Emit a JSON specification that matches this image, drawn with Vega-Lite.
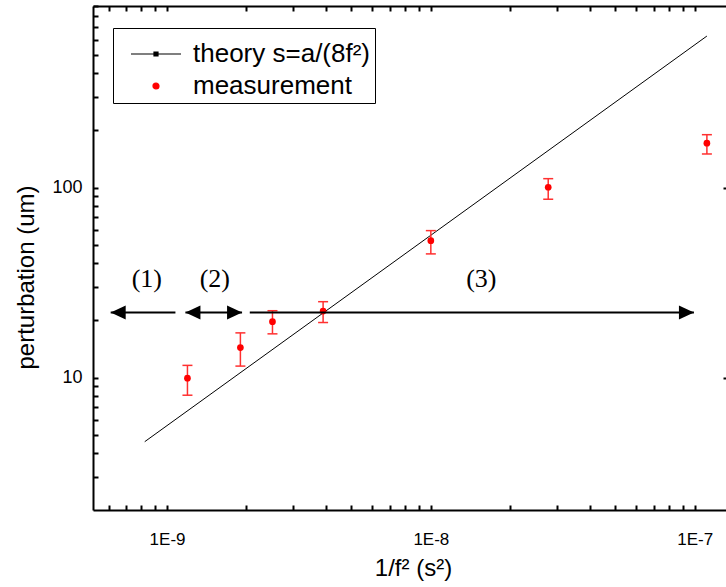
{
  "$schema": "https://vega.github.io/schema/vega-lite/v6.json",
  "width": 633,
  "height": 504,
  "autosize": {"type": "none"},
  "padding": {"left": 93, "top": 6, "right": 0, "bottom": 77},
  "background": "white",
  "config": {
    "view": {"stroke": null},
    "axis": {
      "grid": false,
      "domainColor": "black",
      "domainWidth": 2,
      "tickColor": "black",
      "tickWidth": 2,
      "labelFont": "Liberation Sans",
      "labelFontSize": 17,
      "labelColor": "black",
      "titleFont": "Liberation Sans",
      "titleFontSize": 24,
      "titleFontWeight": "normal",
      "titleColor": "black",
      "labelOverlap": false,
      "labelFlush": false,
      "labelBound": false
    },
    "legend": {
      "labelFont": "Liberation Sans",
      "labelFontSize": 26,
      "labelColor": "black",
      "labelLimit": 400,
      "symbolSize": 100,
      "symbolStrokeWidth": 1.2,
      "padding": 4,
      "rowPadding": 6,
      "labelOffset": 50,
      "strokeColor": "black",
      "strokeWidth": 1,
      "fillColor": "white",
      "titleFontSize": 8,
      "titlePadding": 1
    }
  },
  "datasets": {
    "theory": [
      {"x": 8.23e-10, "s": 4.6},
      {"x": 1.113e-7, "s": 628}
    ],
    "meas": [
      {"x": 1.195e-9, "s": 9.93, "lo": 8.08, "hi": 11.6},
      {"x": 1.897e-9, "s": 14.4, "lo": 11.5, "hi": 17.2},
      {"x": 2.51e-9, "s": 19.7, "lo": 17.0, "hi": 22.5},
      {"x": 3.905e-9, "s": 22.4, "lo": 19.5, "hi": 25.1},
      {"x": 1.0e-8, "s": 52.6, "lo": 44.8, "hi": 59.4},
      {"x": 2.786e-8, "s": 100.5, "lo": 86.9, "hi": 111.5},
      {"x": 1.113e-7, "s": 171.4, "lo": 150.4, "hi": 190}
    ],
    "arrows": [
      {"x1": 6.115e-10, "x2": 1.076e-9, "y": 22},
      {"x1": 1.174e-9, "x2": 1.925e-9, "y": 22},
      {"x1": 2.059e-9, "x2": 9.94e-8, "y": 22}
    ],
    "heads": [
      {"x": 6.115e-10, "y": 22, "dir": "left"},
      {"x": 1.174e-9, "y": 22, "dir": "left"},
      {"x": 1.925e-9, "y": 22, "dir": "right"},
      {"x": 9.94e-8, "y": 22, "dir": "right"}
    ],
    "labels": [
      {"label": "(1)", "x": 8.38e-10, "y": 30},
      {"label": "(2)", "x": 1.517e-9, "y": 30},
      {"label": "(3)", "x": 1.554e-8, "y": 30}
    ],
    "series": [
      {"series": "theory s=a/(8f²)"},
      {"series": "measurement"}
    ]
  },
  "layer": [
    {
      "data": {"name": "theory"},
      "mark": {"type": "line", "color": "black", "strokeWidth": 1},
      "encoding": {
        "x": {
          "field": "x", "type": "quantitative",
          "scale": {"type": "log", "domain": [5.24e-10, 1.315e-7], "nice": false},
          "axis": {
            "orient": "bottom",
            "values": [6e-10, 7e-10, 8e-10, 9e-10, 1e-9, 2e-9, 3e-9, 4e-9, 5e-9, 6e-9, 7e-9, 8e-9, 9e-9, 1e-8, 2e-8, 3e-8, 4e-8, 5e-8, 6e-8, 7e-8, 8e-8, 9e-8, 1e-7],
            "labelExpr": "abs(log(datum.value)/LN10 - round(log(datum.value)/LN10)) < 0.01 ? '1E' + round(log(datum.value)/LN10) : ''",
            "tickSize": -5,
            "labelPadding": 26,
            "title": "1/f² (s²)",
            "titleX": 320,
            "titleY": 65,
            "titleBaseline": "alphabetic",
            "encode": {"ticks": {"update": {"y2": {"signal": "abs(log(datum.value)/LN10 - round(log(datum.value)/LN10)) < 0.01 ? -9 : -5"}}}}
          }
        },
        "y": {
          "field": "s", "type": "quantitative",
          "scale": {"type": "log", "domain": [2.01, 904], "nice": false},
          "axis": {
            "orient": "left",
            "values": [2, 3, 4, 5, 6, 7, 8, 9, 10, 20, 30, 40, 50, 60, 70, 80, 90, 100, 200, 300, 400, 500, 600, 700, 800, 900],
            "labelExpr": "datum.value == 10 ? '10' : (datum.value == 100 ? '100' : '')",
            "labelFontSize": 18,
            "tickSize": -5,
            "labelPadding": 16,
            "title": "perturbation (um)",
            "titleX": -59.5,
            "titleY": 271,
            "titleBaseline": "alphabetic",
            "encode": {"ticks": {"update": {"x2": {"signal": "abs(log(datum.value)/LN10 - round(log(datum.value)/LN10)) < 0.01 ? 9 : 5"}}}}
          }
        }
      }
    },
    {
      "data": {"name": "meas"},
      "mark": {"type": "rule", "color": "#ff3030", "strokeWidth": 1.5},
      "encoding": {
        "x": {
          "field": "x", "type": "quantitative",
          "scale": {"type": "log", "domain": [5.24e-10, 1.315e-7], "nice": false},
          "axis": {
            "orient": "top",
            "values": [6e-10, 7e-10, 8e-10, 9e-10, 1e-9, 2e-9, 3e-9, 4e-9, 5e-9, 6e-9, 7e-9, 8e-9, 9e-9, 1e-8, 2e-8, 3e-8, 4e-8, 5e-8, 6e-8, 7e-8, 8e-8, 9e-8, 1e-7],
            "labels": false,
            "tickSize": -5,
            "title": null,
            "encode": {"ticks": {"update": {"y2": {"signal": "abs(log(datum.value)/LN10 - round(log(datum.value)/LN10)) < 0.01 ? 9 : 5"}}}}
          }
        },
        "y": {
          "field": "lo", "type": "quantitative",
          "scale": {"type": "log", "domain": [2.01, 904], "nice": false},
          "axis": {
            "orient": "right",
            "values": [10, 100],
            "labels": false,
            "domain": false,
            "domainOpacity": 0,
            "tickSize": -3,
            "title": null
          }
        },
        "y2": {"field": "hi"}
      }
    },
    {
      "data": {"name": "meas"},
      "mark": {"type": "tick", "orient": "horizontal", "color": "#ff3030", "size": 10, "thickness": 1.5, "opacity": 1},
      "encoding": {
        "x": {"field": "x", "type": "quantitative", "scale": {"type": "log", "domain": [5.24e-10, 1.315e-7], "nice": false}, "axis": null},
        "y": {"field": "lo", "type": "quantitative", "scale": {"type": "log", "domain": [2.01, 904], "nice": false}, "axis": null}
      }
    },
    {
      "data": {"name": "meas"},
      "mark": {"type": "tick", "orient": "horizontal", "color": "#ff3030", "size": 10, "thickness": 1.5, "opacity": 1},
      "encoding": {
        "x": {"field": "x", "type": "quantitative", "scale": {"type": "log", "domain": [5.24e-10, 1.315e-7], "nice": false}, "axis": null},
        "y": {"field": "hi", "type": "quantitative", "scale": {"type": "log", "domain": [2.01, 904], "nice": false}, "axis": null}
      }
    },
    {
      "data": {"name": "meas"},
      "mark": {"type": "point", "filled": true, "color": "red", "size": 45, "opacity": 1, "shape": "circle"},
      "encoding": {
        "x": {"field": "x", "type": "quantitative", "scale": {"type": "log", "domain": [5.24e-10, 1.315e-7], "nice": false}, "axis": null},
        "y": {"field": "s", "type": "quantitative", "scale": {"type": "log", "domain": [2.01, 904], "nice": false}, "axis": null}
      }
    },
    {
      "data": {"name": "arrows"},
      "mark": {"type": "rule", "color": "black", "strokeWidth": 2},
      "encoding": {
        "x": {"field": "x1", "type": "quantitative", "scale": {"type": "log", "domain": [5.24e-10, 1.315e-7], "nice": false}, "axis": null},
        "x2": {"field": "x2"},
        "y": {"field": "y", "type": "quantitative", "scale": {"type": "log", "domain": [2.01, 904], "nice": false}, "axis": null}
      }
    },
    {
      "data": {"name": "heads"},
      "transform": [{"filter": "datum.dir == 'left'"}],
      "mark": {"type": "point", "filled": true, "color": "black", "opacity": 1, "size": 225, "shape": "M0,0L2,-0.93L2,0.93Z"},
      "encoding": {
        "x": {"field": "x", "type": "quantitative", "scale": {"type": "log", "domain": [5.24e-10, 1.315e-7], "nice": false}, "axis": null},
        "y": {"field": "y", "type": "quantitative", "scale": {"type": "log", "domain": [2.01, 904], "nice": false}, "axis": null}
      }
    },
    {
      "data": {"name": "heads"},
      "transform": [{"filter": "datum.dir == 'right'"}],
      "mark": {"type": "point", "filled": true, "color": "black", "opacity": 1, "size": 225, "shape": "M0,0L-2,-0.93L-2,0.93Z"},
      "encoding": {
        "x": {"field": "x", "type": "quantitative", "scale": {"type": "log", "domain": [5.24e-10, 1.315e-7], "nice": false}, "axis": null},
        "y": {"field": "y", "type": "quantitative", "scale": {"type": "log", "domain": [2.01, 904], "nice": false}, "axis": null}
      }
    },
    {
      "data": {"name": "labels"},
      "mark": {"type": "text", "font": "Liberation Serif", "fontSize": 26, "color": "black", "align": "center", "baseline": "alphabetic"},
      "encoding": {
        "x": {"field": "x", "type": "quantitative", "scale": {"type": "log", "domain": [5.24e-10, 1.315e-7], "nice": false}, "axis": null},
        "y": {"field": "y", "type": "quantitative", "scale": {"type": "log", "domain": [2.01, 904], "nice": false}, "axis": null},
        "text": {"field": "label"}
      }
    },
    {
      "data": {"name": "series"},
      "transform": [{"filter": "false"}],
      "mark": {"type": "point", "filled": true, "opacity": 1},
      "encoding": {
        "shape": {
          "field": "series", "type": "nominal",
          "scale": {"domain": ["theory s=a/(8f²)", "measurement"], "range": ["M0.2,0H10.2M4.8,-0.4H5.6V0.4H4.8Z", "M4.6,0A0.6,0.6 0 1,0 5.8,0A0.6,0.6 0 1,0 4.6,0Z"]},
          "legend": {"title": " ", "orient": "none", "legendX": 20, "legendY": 22}
        },
        "fill": {
          "field": "series", "type": "nominal",
          "scale": {"domain": ["theory s=a/(8f²)", "measurement"], "range": ["black", "red"]},
          "legend": {"title": " ", "orient": "none", "legendX": 20, "legendY": 22}
        },
        "stroke": {
          "field": "series", "type": "nominal",
          "scale": {"domain": ["theory s=a/(8f²)", "measurement"], "range": ["black", "red"]},
          "legend": {"title": " ", "orient": "none", "legendX": 20, "legendY": 22}
        }
      }
    }
  ],
  "resolve": {"axis": {"x": "independent", "y": "independent"}}
}
